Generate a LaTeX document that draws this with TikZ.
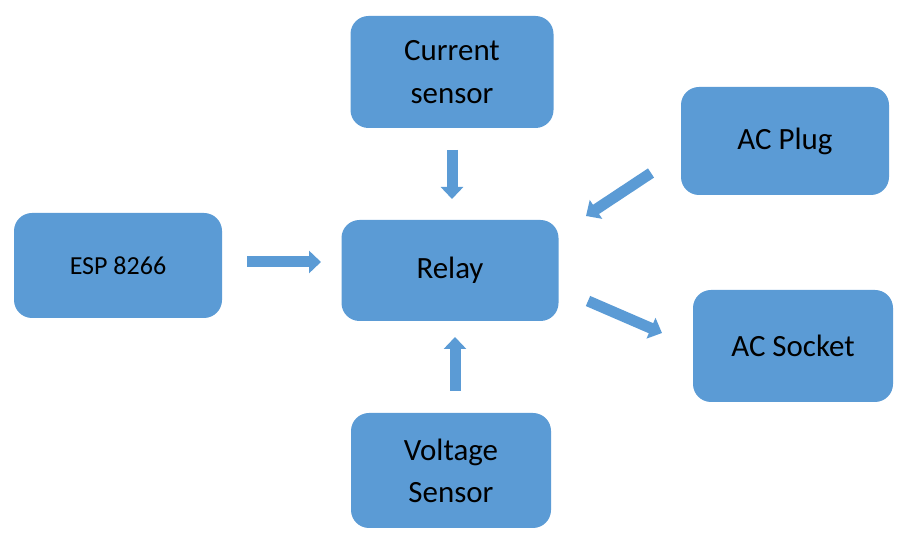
\documentclass[tikz,border=0pt]{standalone}
\usepackage{fontspec}
\setmainfont{Carlito}
\usetikzlibrary{arrows.meta}
\definecolor{boxblue}{HTML}{5B9BD5}
\tikzset{block/.style={fill=boxblue, rounded corners=0.45cm, align=center, text=black,
  font=\fontsize{22}{30}\selectfont, inner sep=0pt},
  flow/.style={draw=boxblue, line width=0.275cm, -{Triangle[width=0.55cm,length=0.3cm]}}}

\begin{document}
\begin{tikzpicture}
\useasboundingbox (0,0) rectangle (22.6,13.6);

\node[block, minimum width=5.075cm, minimum height=2.8cm] (cur) at (11.3,11.8) {Current\\sensor};
\node[block, minimum width=5.2cm, minimum height=2.7cm] (plug) at (19.625,10.075) {AC Plug};
\node[block, minimum width=5.2cm, minimum height=2.625cm, font=\fontsize{18.5}{22}\selectfont] (esp) at (2.95,6.9625) {ESP 8266};
\node[block, minimum width=5.425cm, minimum height=2.525cm] (relay) at (11.25,6.8375) {Relay};
\node[block, minimum width=5.0cm, minimum height=2.8cm] (socket) at (19.825,4.95) {AC Socket};
\node[block, minimum width=5.0cm, minimum height=2.875cm] (volt) at (11.275,1.8375) {Voltage\\Sensor};

\coordinate (curtail) at (11.3,9.85);
\coordinate (curtip) at (11.3,8.625);
\coordinate (volttail) at (11.375,3.825);
\coordinate (volttip) at (11.375,5.175);
\coordinate (esptail) at (6.175,7.05);
\coordinate (esptip) at (8.025,7.05);
\coordinate (plugtail) at (16.275,9.275);
\coordinate (plugtip) at (14.65,8.2);
\coordinate (sockettail) at (14.7,6.075);
\coordinate (sockettip) at (16.55,5.275);

\draw[flow] (curtail) -- (curtip);
\draw[flow] (volttail) -- (volttip);
\draw[flow] (esptail) -- (esptip);
\draw[flow] (plugtail) -- (plugtip);
\draw[flow] (sockettail) -- (sockettip);
\end{tikzpicture}
\end{document}
